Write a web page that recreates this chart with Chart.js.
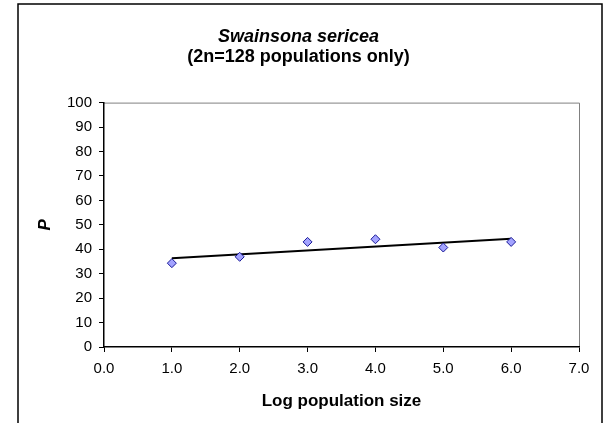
<!DOCTYPE html>
<html>
<head>
<meta charset="utf-8">
<script src="https://cdn.jsdelivr.net/npm/chart.js@4/dist/chart.umd.min.js"></script>
<style>
  html, body { margin: 0; padding: 0; background: #fff; }
  #wrap { width: 606px; height: 423px; }
</style>
</head>
<body>
<div id="wrap"><canvas id="popChart" width="606" height="423"></canvas></div>
<script>
// log population size vs P, 2n=128 populations
const logSize = [1.0, 2.0, 3.0, 4.0, 5.0, 6.0];
const pValues = [34.3, 36.9, 43.0, 44.1, 40.7, 43.0];
const xTicks = [0, 1, 2, 3, 4, 5, 6, 7];
const yTicks = [0, 10, 20, 30, 40, 50, 60, 70, 80, 90, 100];

const FONT = "'Liberation Sans', Arial, sans-serif";

// least squares line through the points
function linearFit(xs, ys) {
    const n = xs.length;
    const mx = xs.reduce((a, b) => a + b, 0) / n;
    const my = ys.reduce((a, b) => a + b, 0) / n;
    let sxy = 0, sxx = 0;
    for (let i = 0; i < n; i++) {
        sxy += (xs[i] - mx) * (ys[i] - my);
        sxx += (xs[i] - mx) * (xs[i] - mx);
    }
    const slope = sxy / sxx;
    return { slope: slope, intercept: my - slope * mx };
}

const fit = linearFit(logSize, pValues);
const xMin = Math.min(...logSize), xMax = Math.max(...logSize);
const trend = [
    { x: xMin, y: fit.intercept + fit.slope * xMin },
    { x: xMax, y: fit.intercept + fit.slope * xMax },
];

// outer frame + grey top/right edges of the plot area
const framePlugin = {
    id: 'frame',
    beforeDraw(chart) {
        const c = chart.ctx;
        const a = chart.chartArea;
        c.save();
        c.fillStyle = '#fff';
        c.fillRect(0, 0, chart.width, chart.height);
        c.strokeStyle = '#000';
        c.lineWidth = 1.5;
        c.beginPath();
        c.moveTo(18, chart.height + 5);
        c.lineTo(18, 4);
        c.lineTo(602, 4);
        c.lineTo(602, chart.height + 5);
        c.stroke();
        c.strokeStyle = '#808080';
        c.lineWidth = 1;
        c.beginPath();
        c.moveTo(a.left, a.top + 0.5);
        c.lineTo(a.right + 0.5, a.top + 0.5);
        c.lineTo(a.right + 0.5, a.bottom);
        c.stroke();
        c.restore();
    }
};

new Chart(document.getElementById('popChart').getContext('2d'), {
    type: 'scatter',
    data: {
        datasets: [
            {
                label: 'P',
                data: logSize.map((x, i) => ({ x: x, y: pValues[i] })),
                pointStyle: 'rectRot',
                pointRadius: 4.5,
                backgroundColor: '#a3a3ff',
                borderColor: '#1a1a99',
                borderWidth: 1,
                order: 1,
            },
            {
                label: 'trend',
                data: trend,
                showLine: true,
                pointRadius: 0,
                borderColor: '#000',
                borderWidth: 2,
                order: 2,
            },
        ],
    },
    options: {
        responsive: false,
        animation: false,
        layout: {
            padding: { left: 18, right: 27, top: 0, bottom: 0 }
        },
        plugins: {
            legend: { display: false },
            tooltip: { enabled: false },
            title: {
                display: true,
                text: 'Swainsona sericea',
                color: '#000',
                font: { family: FONT, size: 18, weight: 'bold', style: 'italic', lineHeight: 1.1 },
                padding: { top: 27, bottom: 0 },
            },
            subtitle: {
                display: true,
                text: '(2n=128 populations only)',
                color: '#000',
                font: { family: FONT, size: 18, weight: 'bold', lineHeight: 1.1 },
                padding: { top: 0, bottom: 36 },
            },
        },
        scales: {
            x: {
                type: 'linear',
                min: 0,
                max: 7,
                afterBuildTicks(scale) {
                    scale.ticks = xTicks.map(v => ({ value: v }));
                },
                afterFit(scale) {
                    scale.height = 76;
                },
                grid: {
                    display: true,
                    drawOnChartArea: false,
                    drawTicks: true,
                    tickLength: 5,
                    color: '#000',
                },
                border: { display: true, color: '#000', width: 1.5 },
                ticks: {
                    color: '#000',
                    padding: 8,
                    font: { family: FONT, size: 15 },
                    callback: v => Number(v).toFixed(1),
                },
                title: {
                    display: true,
                    text: 'Log population size',
                    color: '#000',
                    font: { family: FONT, size: 17, weight: 'bold', lineHeight: 1.2 },
                    padding: { top: 0, bottom: 11 },
                },
            },
            y: {
                type: 'linear',
                min: 0,
                max: 100,
                afterBuildTicks(scale) {
                    scale.ticks = yTicks.map(v => ({ value: v }));
                },
                afterFit(scale) {
                    scale.width = 86;
                },
                grid: {
                    display: true,
                    drawOnChartArea: false,
                    drawTicks: true,
                    tickLength: 5,
                    color: '#000',
                },
                border: { display: true, color: '#000', width: 1.5 },
                ticks: {
                    color: '#000',
                    padding: 7,
                    font: { family: FONT, size: 15 },
                },
                title: {
                    display: true,
                    text: 'P',
                    color: '#000',
                    font: { family: FONT, size: 17, weight: 'bold', style: 'italic', lineHeight: 1.2 },
                    padding: { top: 17, bottom: 0 },
                },
            },
        },
    },
    plugins: [framePlugin],
});
</script>
</body>
</html>
